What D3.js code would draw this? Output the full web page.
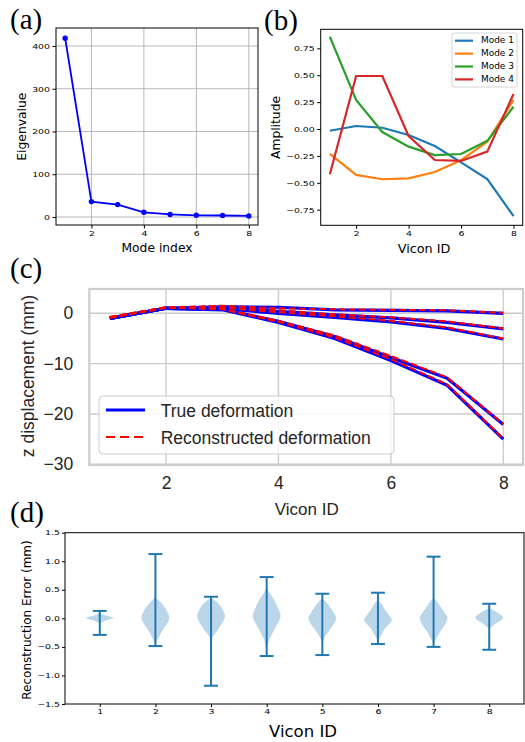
<!DOCTYPE html>
<html>
<head>
<meta charset="utf-8">
<script src="https://cdn.jsdelivr.net/npm/d3@7"></script>
<style>
  body { margin: 0; background: #fff; }
  svg { display: block; }
</style>
</head>
<body>
<div id="chart"></div>
<script>
// ---- data ----
// (a) eigenvalues of the modes
const modeIndex = [1, 2, 3, 4, 5, 6, 7, 8];
const eigenvalues = [418, 36, 29, 11, 6, 4, 3.5, 2.5];

// (b) mode shapes per vicon marker
const viconIds = [1, 2, 3, 4, 5, 6, 7, 8];
const modeNames = ["Mode 1", "Mode 2", "Mode 3", "Mode 4"];
const mode1 = [-0.016, 0.028, 0.012, -0.056, -0.158, -0.31, -0.465, -0.81];
const mode2 = [-0.232, -0.427, -0.467, -0.459, -0.40, -0.29, -0.118, 0.27];
const mode3 = [0.858, 0.27, -0.028, -0.164, -0.242, -0.232, -0.11, 0.207];
const mode4 = [-0.42, 0.493, 0.493, -0.065, -0.288, -0.297, -0.21, 0.325];
const modeColors = ["#1f77b4", "#ff7f0e", "#2ca02c", "#d62728"];

// (c) z displacement, true vs reconstructed (mm)
const trueDeform = [
  [-1.0, 1.0, 1.3, 1.2, 0.7, 0.6, 0.5, 0.0],
  [-1.0, 1.0, 1.1, 0.4, -0.3, -0.9, -1.8, -3.1],
  [-1.0, 1.0, 0.9, 0.0, -0.8, -1.7, -3.0, -5.1],
  [-1.0, 1.0, 0.8, -1.6, -4.6, -8.8, -12.9, -22.1],
  [-1.0, 1.0, 0.7, -1.8, -5.0, -9.4, -14.3, -25.0]
];
const reconDeform = [
  [-0.8, 1.2, 1.5, 1.0, 0.8, 0.7, 0.6, 0.1],
  [-0.9, 1.1, 1.2, 0.6, -0.2, -0.8, -1.6, -3.0],
  [-0.7, 1.2, 1.1, 0.2, -0.6, -1.5, -2.8, -5.0],
  [-0.9, 1.1, 0.9, -1.5, -4.4, -8.5, -12.7, -22.0],
  [-0.8, 1.2, 0.8, -1.7, -4.8, -9.1, -14.1, -24.9]
];
const legendLabels = ["True deformation", "Reconstructed deformation"];

// (d) reconstruction error per vicon marker (mm)
const errMax = [0.13, 1.126, 0.378, 0.723, 0.431, 0.449, 1.08, 0.256];
const errMin = [-0.29, -0.485, -1.18, -0.66, -0.643, -0.45, -0.50, -0.55];
// violin outline: [error value, relative half width]
const violinProfiles = [
  [[0.1, 0], [0.06, 0.3], [0.03, 0.75], [0.01, 1], [-0.02, 0.7], [-0.05, 0.3], [-0.09, 0]],
  [[0.38, 0], [0.3, 0.3], [0.23, 0.57], [0.12, 0.85], [0.01, 1], [-0.09, 0.85], [-0.175, 0.6], [-0.27, 0.38], [-0.35, 0.2], [-0.45, 0]],
  [[0.36, 0], [0.3, 0.35], [0.23, 0.64], [0.12, 0.9], [0.045, 1], [-0.04, 0.9], [-0.12, 0.7], [-0.2, 0.5], [-0.26, 0.3], [-0.36, 0]],
  [[0.53, 0], [0.45, 0.2], [0.35, 0.47], [0.2, 0.78], [0.045, 1], [-0.06, 0.85], [-0.175, 0.6], [-0.28, 0.38], [-0.38, 0.18], [-0.58, 0]],
  [[0.35, 0], [0.28, 0.3], [0.2, 0.55], [0.1, 0.82], [0.0, 1], [-0.09, 0.85], [-0.175, 0.6], [-0.25, 0.38], [-0.32, 0.2], [-0.44, 0]],
  [[0.32, 0], [0.24, 0.3], [0.145, 0.52], [0.05, 0.82], [-0.03, 1], [-0.1, 0.8], [-0.175, 0.52], [-0.25, 0.33], [-0.32, 0.18], [-0.41, 0]],
  [[0.36, 0], [0.27, 0.33], [0.175, 0.57], [0.08, 0.85], [0.01, 1], [-0.08, 0.88], [-0.175, 0.64], [-0.26, 0.4], [-0.35, 0.2], [-0.47, 0]],
  [[0.18, 0], [0.14, 0.3], [0.1, 0.6], [0.05, 0.9], [0.02, 1], [-0.02, 0.9], [-0.07, 0.6], [-0.11, 0.35], [-0.15, 0.15], [-0.2, 0]]
];

const W = 525, H = 742;
const MPL = "'DejaVu Sans', sans-serif";
const SNS = "'Liberation Sans', Arial, sans-serif";
const SERIF = "'Liberation Serif', 'Times New Roman', serif";

const svg = d3.select("#chart").append("svg")
    .attr("width", W)
    .attr("height", H);

// squeeze tick labels a bit wider, like the raster in the source figure
function styleTicks(g, size, sx, font, color) {
    g.selectAll("text")
        .attr("font-family", font)
        .attr("font-size", size)
        .attr("fill", color)
        .each(function() {
            const t = d3.select(this);
            const x = +t.attr("x") || 0;
            t.attr("x", x / sx).attr("transform", "scale(" + sx + ",1)");
        });
}

function label(x, y, txt, size, font, rotate, color) {
    svg.append("text")
        .attr("transform", "translate(" + x + "," + y + ")" + (rotate ? " rotate(-90)" : ""))
        .attr("text-anchor", "middle")
        .attr("font-family", font)
        .attr("font-size", size)
        .attr("fill", color || "#000")
        .text(txt);
}

// panel letters
[["(a)", 10, 29], ["(b)", 264, 30], ["(c)", 10, 278], ["(d)", 10, 522]].forEach(function(p) {
    svg.append("text")
        .attr("x", p[1]).attr("y", p[2])
        .attr("font-family", SERIF)
        .attr("font-size", 29)
        .text(p[0]);
});

// ---------- (a) ----------
const xa = d3.scaleLinear().domain([0.65, 8.35]).range([56, 258]);
const ya = d3.scaleLinear().domain([-18.7, 442]).range([225, 28]);
const ga = svg.append("g");

ga.selectAll(".vg").data([2, 4, 6, 8]).enter().append("line")
    .attr("x1", d => xa(d)).attr("x2", d => xa(d))
    .attr("y1", ya.range()[0]).attr("y2", ya.range()[1])
    .attr("stroke", "#b0b0b0").attr("stroke-width", 0.9);
ga.selectAll(".hg").data([0, 100, 200, 300, 400]).enter().append("line")
    .attr("x1", xa.range()[0]).attr("x2", xa.range()[1])
    .attr("y1", d => ya(d)).attr("y2", d => ya(d))
    .attr("stroke", "#b0b0b0").attr("stroke-width", 0.9);

const eigData = modeIndex.map((m, i) => ({ x: m, y: eigenvalues[i] }));
ga.append("path").datum(eigData)
    .attr("fill", "none").attr("stroke", "#0000ff").attr("stroke-width", 1.8)
    .attr("d", d3.line().x(d => xa(d.x)).y(d => ya(d.y)));
ga.selectAll(".pt").data(eigData).enter().append("circle")
    .attr("cx", d => xa(d.x)).attr("cy", d => ya(d.y)).attr("r", 2.7)
    .attr("fill", "#0000ff");

ga.append("rect")
    .attr("x", 56).attr("y", 28).attr("width", 202).attr("height", 197)
    .attr("fill", "none").attr("stroke", "#000").attr("stroke-width", 1);

const axA_x = ga.append("g").attr("transform", "translate(0,225)")
    .call(d3.axisBottom(xa).tickValues([2, 4, 6, 8]).tickSize(3.5).tickPadding(2.5).tickFormat(d3.format("d")));
const axA_y = ga.append("g").attr("transform", "translate(56,0)")
    .call(d3.axisLeft(ya).tickValues([0, 100, 200, 300, 400]).tickSize(3.5).tickPadding(2.5).tickFormat(d3.format("d")));
[axA_x, axA_y].forEach(g => { g.select(".domain").remove(); styleTicks(g, 7.2, 1.3, MPL, "#000"); });

label(25.5, 126.7, "Eigenvalue", 12.3, MPL, true);
label(157, 252.3, "Mode index", 12.3, MPL, false);

// ---------- (b) ----------
const xb = d3.scaleLinear().domain([0.65, 8.35]).range([320.7, 522.7]);
const yb = d3.scaleLinear().domain([-0.895, 0.927]).range([225.3, 29.3]);
const gb = svg.append("g");
const modes = [mode1, mode2, mode3, mode4];

gb.selectAll(".mode").data(modes).enter().append("path")
    .attr("fill", "none")
    .attr("stroke", (d, i) => modeColors[i])
    .attr("stroke-width", 2.2)
    .attr("d", d => d3.line().x((v, i) => xb(viconIds[i])).y(v => yb(v))(d));

gb.append("rect")
    .attr("x", 320.7).attr("y", 29.3).attr("width", 202).attr("height", 196)
    .attr("fill", "none").attr("stroke", "#000").attr("stroke-width", 1);

const axB_x = gb.append("g").attr("transform", "translate(0,225.3)")
    .call(d3.axisBottom(xb).tickValues([2, 4, 6, 8]).tickSize(3.5).tickPadding(2.5).tickFormat(d3.format("d")));
const axB_y = gb.append("g").attr("transform", "translate(320.7,0)")
    .call(d3.axisLeft(yb).tickValues([-0.75, -0.5, -0.25, 0, 0.25, 0.5, 0.75]).tickSize(3.5).tickPadding(2.5).tickFormat(d3.format(".2f")));
[axB_x, axB_y].forEach(g => { g.select(".domain").remove(); styleTicks(g, 7.2, 1.3, MPL, "#000"); });

// legend (b)
const legB = gb.append("g");
legB.append("rect")
    .attr("x", 452).attr("y", 33).attr("width", 65).attr("height", 54).attr("rx", 2)
    .attr("fill", "#fff").attr("fill-opacity", 0.8).attr("stroke", "#cccccc").attr("stroke-width", 0.8);
modeNames.forEach(function(name, i) {
    const yy = 40.7 + i * 12.9;
    legB.append("line")
        .attr("x1", 455).attr("x2", 473).attr("y1", yy).attr("y2", yy)
        .attr("stroke", modeColors[i]).attr("stroke-width", 2.2);
    legB.append("text")
        .attr("x", 481 / 1.12).attr("y", yy).attr("dy", "0.35em")
        .attr("transform", "scale(1.12,1)")
        .attr("font-family", MPL).attr("font-size", 8)
        .text(name);
});

label(279.5, 127.5, "Amplitude", 12.3, MPL, true);
label(424, 253, "Vicon ID", 12.8, MPL, false);

// ---------- (c) ----------
const xc = d3.scaleLinear().domain([0.635, 8.35]).range([89.3, 523]);
const yc = d3.scaleLinear().domain([-30.14, 4.83]).range([465, 289]);
const gc = svg.append("g");
const gridC = "#cccccc";

gc.selectAll(".vg").data([2, 4, 6, 8]).enter().append("line")
    .attr("x1", d => xc(d)).attr("x2", d => xc(d))
    .attr("y1", 465).attr("y2", 289)
    .attr("stroke", gridC).attr("stroke-width", 1.4);
gc.selectAll(".hg").data([0, -10, -20, -30]).enter().append("line")
    .attr("x1", 89.3).attr("x2", 523)
    .attr("y1", d => yc(d)).attr("y2", d => yc(d))
    .attr("stroke", gridC).attr("stroke-width", 1.4);

const lineC = d3.line().x((v, i) => xc(viconIds[i])).y(v => yc(v));
gc.selectAll(".true").data(trueDeform).enter().append("path")
    .attr("fill", "none").attr("stroke", "#0000ff").attr("stroke-width", 3.2)
    .attr("stroke-linejoin", "round")
    .attr("d", lineC);
gc.selectAll(".recon").data(reconDeform).enter().append("path")
    .attr("fill", "none").attr("stroke", "#ff0000").attr("stroke-width", 2)
    .attr("stroke-dasharray", "7,3")
    .attr("d", lineC);

gc.append("rect")
    .attr("x", 89.3).attr("y", 289).attr("width", 523 - 89.3).attr("height", 176)
    .attr("fill", "none").attr("stroke", gridC).attr("stroke-width", 2.2);

const axC_x = gc.append("g").attr("transform", "translate(0,465)")
    .call(d3.axisBottom(xc).tickValues([2, 4, 6, 8]).tickSize(0).tickPadding(12).tickFormat(d3.format("d")));
const axC_y = gc.append("g").attr("transform", "translate(89.3,0)")
    .call(d3.axisLeft(yc).tickValues([0, -10, -20, -30]).tickSize(0).tickPadding(16).tickFormat(d3.format("d")));
[axC_x, axC_y].forEach(g => {
    g.select(".domain").remove();
    g.selectAll("line").remove();
    g.selectAll("text").attr("font-family", SNS).attr("font-size", 17.5).attr("fill", "#262626");
});

// legend (c)
const legC = gc.append("g");
legC.append("rect")
    .attr("x", 99).attr("y", 396).attr("width", 295).attr("height", 58).attr("rx", 4)
    .attr("fill", "#fff").attr("fill-opacity", 0.8).attr("stroke", gridC).attr("stroke-width", 1);
legC.append("line").attr("x1", 106).attr("x2", 145).attr("y1", 410).attr("y2", 410)
    .attr("stroke", "#0000ff").attr("stroke-width", 3.2);
legC.append("line").attr("x1", 106).attr("x2", 145).attr("y1", 437).attr("y2", 437)
    .attr("stroke", "#ff0000").attr("stroke-width", 2.2).attr("stroke-dasharray", "9,5");
legendLabels.forEach(function(t, i) {
    legC.append("text")
        .attr("x", 160.7).attr("y", i === 0 ? 416.7 : 443.5)
        .attr("font-family", SNS).attr("font-size", 17.5).attr("fill", "#262626")
        .text(t);
});

label(33.5, 376, "z displacement (mm)", 17.5, SNS, true, "#262626");
label(306.7, 515, "Vicon ID", 17, SNS, false, "#262626");

// ---------- (d) ----------
const xd = d3.scaleLinear().domain([0.375, 8.625]).range([65, 524]);
const yd = d3.scaleLinear().domain([-1.5, 1.5]).range([704, 532.7]);
const gd = svg.append("g");
const vBlue = "#1f77b4";

violinProfiles.forEach(function(prof, i) {
    const pos = viconIds[i];
    gd.append("path").datum(prof)
        .attr("fill", vBlue).attr("fill-opacity", 0.3)
        .attr("d", d3.area()
            .curve(d3.curveCatmullRom)
            .y(d => yd(d[0]))
            .x0(d => xd(pos - 0.25 * d[1]))
            .x1(d => xd(pos + 0.25 * d[1])));
});

const vd = viconIds.map((id, i) => ({ id: id, max: errMax[i], min: errMin[i] }));
gd.selectAll(".bar").data(vd).enter().append("line")
    .attr("x1", d => xd(d.id)).attr("x2", d => xd(d.id))
    .attr("y1", d => yd(d.max)).attr("y2", d => yd(d.min))
    .attr("stroke", vBlue).attr("stroke-width", 2);
gd.selectAll(".capT").data(vd).enter().append("line")
    .attr("x1", d => xd(d.id - 0.125)).attr("x2", d => xd(d.id + 0.125))
    .attr("y1", d => yd(d.max)).attr("y2", d => yd(d.max))
    .attr("stroke", vBlue).attr("stroke-width", 2);
gd.selectAll(".capB").data(vd).enter().append("line")
    .attr("x1", d => xd(d.id - 0.125)).attr("x2", d => xd(d.id + 0.125))
    .attr("y1", d => yd(d.min)).attr("y2", d => yd(d.min))
    .attr("stroke", vBlue).attr("stroke-width", 2);

gd.append("rect")
    .attr("x", 65).attr("y", 532.7).attr("width", 459).attr("height", 704 - 532.7)
    .attr("fill", "none").attr("stroke", "#000").attr("stroke-width", 1);

const axD_x = gd.append("g").attr("transform", "translate(0,704)")
    .call(d3.axisBottom(xd).tickValues(viconIds).tickSize(3).tickPadding(2.5).tickFormat(d3.format("d")));
const axD_y = gd.append("g").attr("transform", "translate(65,0)")
    .call(d3.axisLeft(yd).tickValues([-1.5, -1, -0.5, 0, 0.5, 1, 1.5]).tickSize(3).tickPadding(2).tickFormat(d3.format(".1f")));
[axD_x, axD_y].forEach(g => { g.select(".domain").remove(); styleTicks(g, 6.5, 1.45, MPL, "#000"); });

label(30.5, 620, "Reconstruction Error (mm)", 12, MPL, true);
label(303, 737.3, "Vicon ID", 16.5, MPL, false);
</script>
</body>
</html>
